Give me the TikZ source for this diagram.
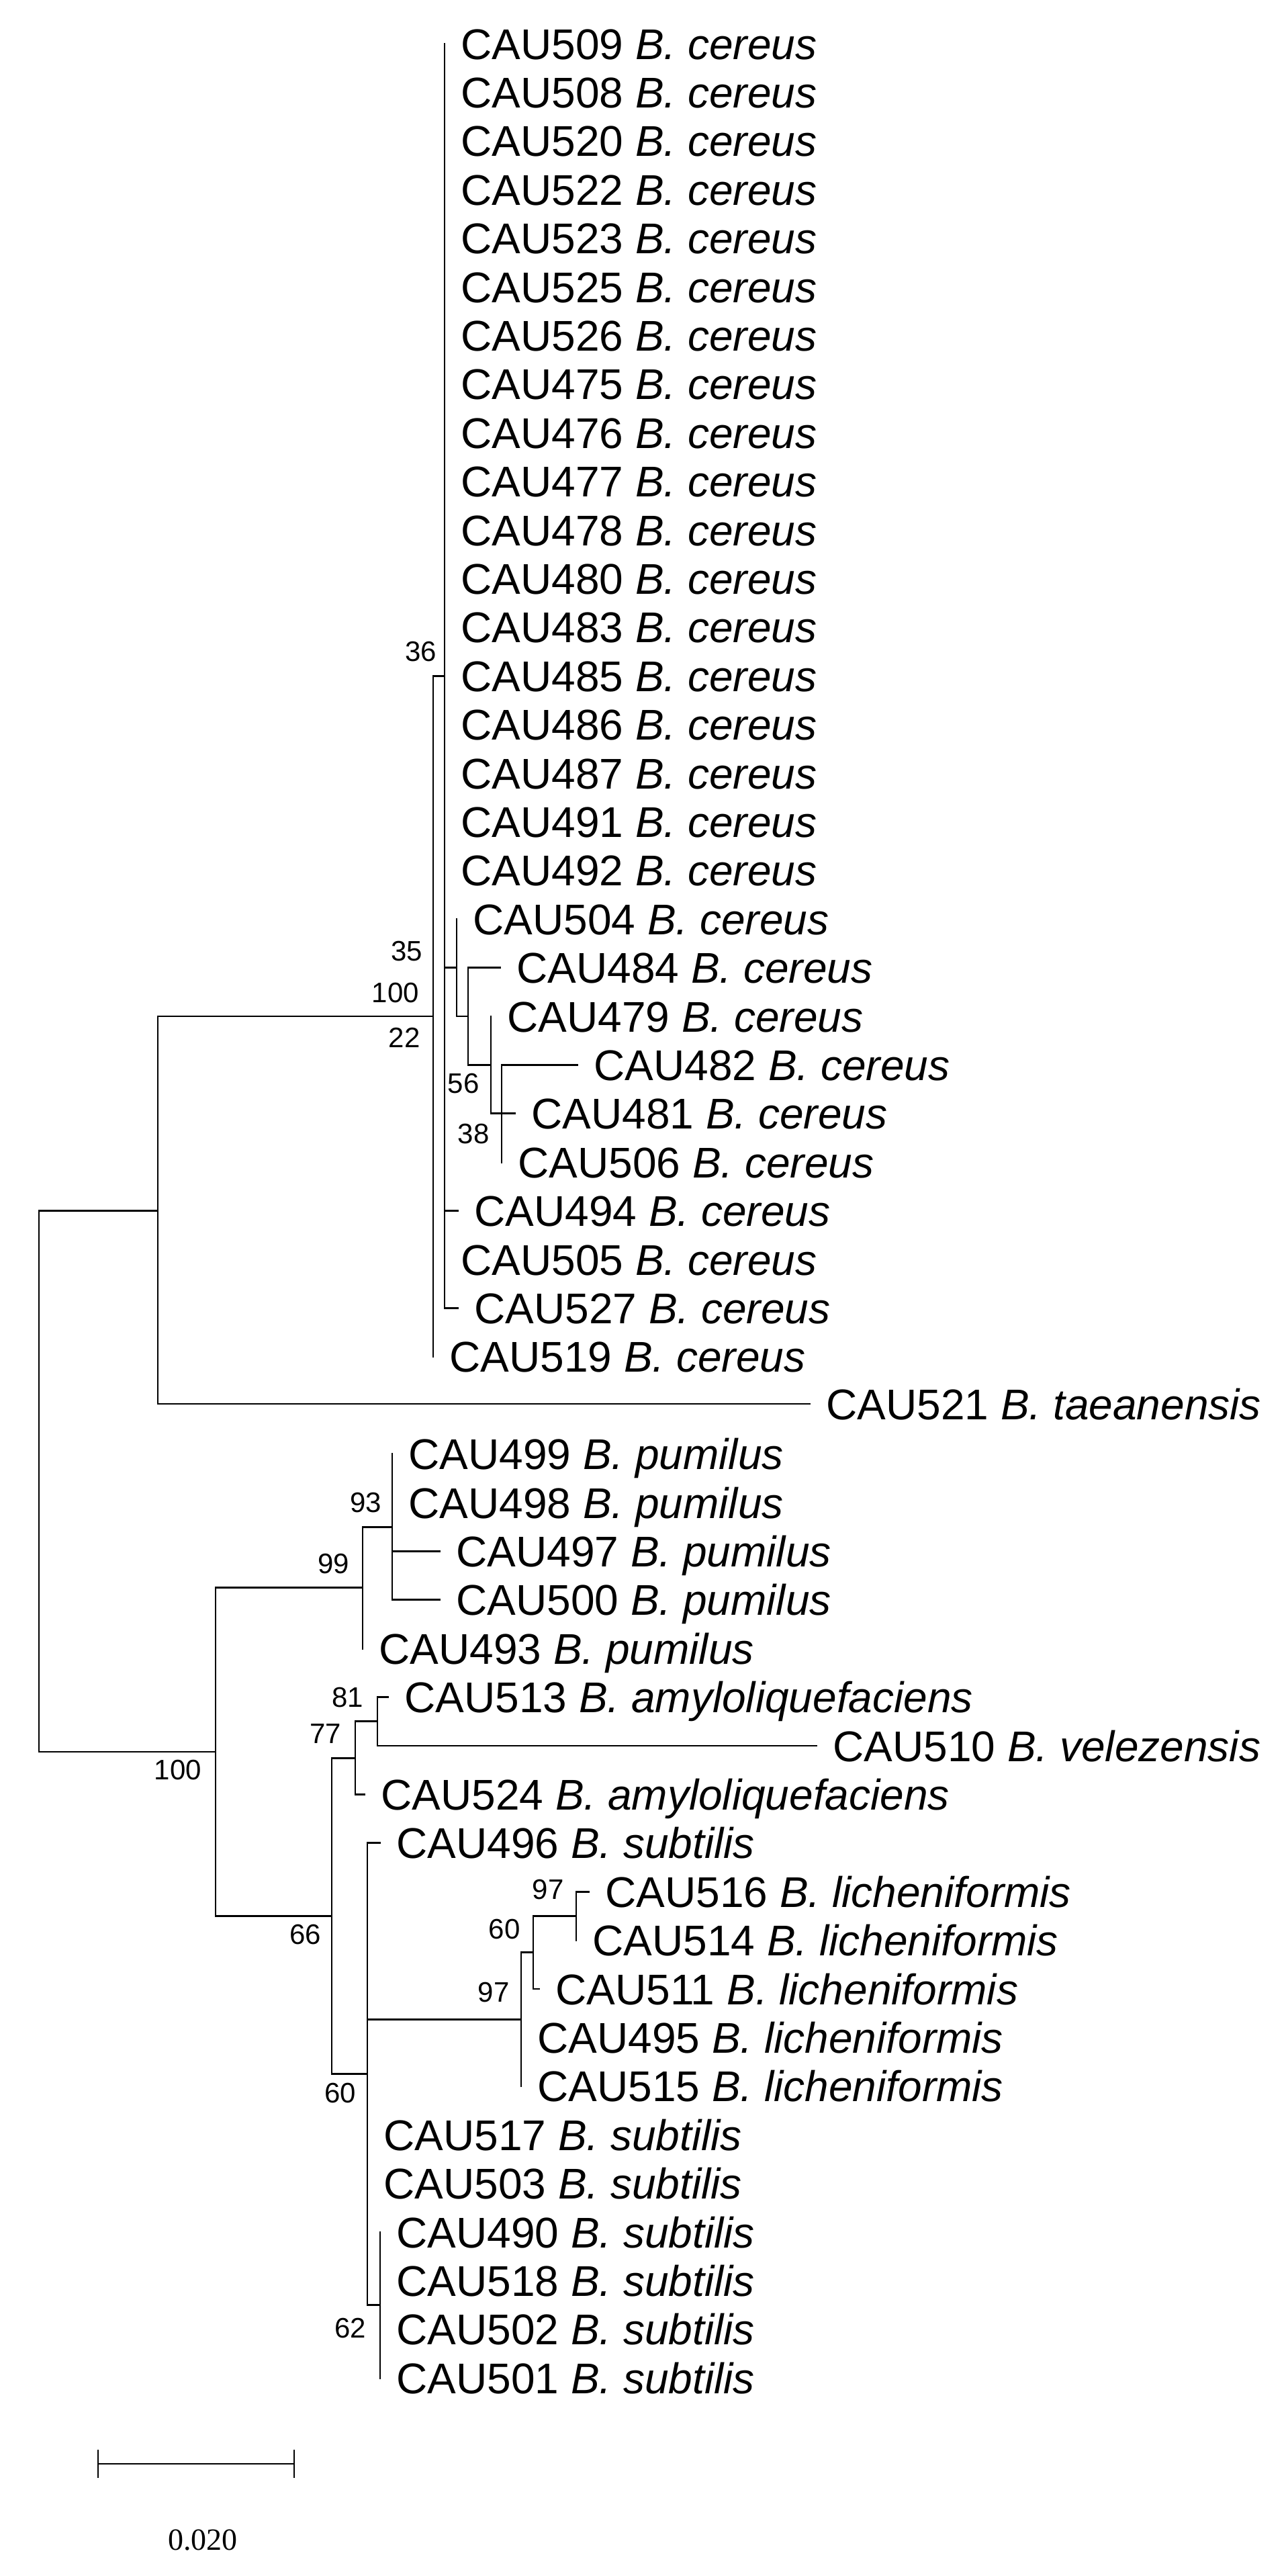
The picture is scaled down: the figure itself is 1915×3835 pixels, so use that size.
\documentclass[tikz,border=0pt]{standalone}
\usepackage{fontspec}
\setmainfont{Liberation Sans}
\newfontfamily\serifnum{Liberation Serif}
\begin{document}
\begin{tikzpicture}[x=0.5pt,y=-0.5pt,
  br/.style={line width=1.4pt,line cap=rect},
  leaf/.style={anchor=base west,inner sep=0pt,xshift=12pt,yshift=-11.5pt,font=\fontsize{32}{38}\selectfont},
  bs/.style={inner sep=0pt,font=\fontsize{21}{25}\selectfont}]
\useasboundingbox (0,0) rectangle (1915,3835);
% leaf tips
\def\lf#1#2#3#4{\coordinate (t#1) at (#2,#3); \node[leaf] (l#1) at (t#1) {CAU#1 \textit{B. #4}};}
\lf{509}{662}{65}{cereus}
\lf{508}{662}{137.4}{cereus}
\lf{520}{662}{209.8}{cereus}
\lf{522}{662}{282.2}{cereus}
\lf{523}{662}{354.6}{cereus}
\lf{525}{662}{427}{cereus}
\lf{526}{662}{499.4}{cereus}
\lf{475}{662}{571.8}{cereus}
\lf{476}{662}{644.2}{cereus}
\lf{477}{662}{716.6}{cereus}
\lf{478}{662}{789}{cereus}
\lf{480}{662}{861.4}{cereus}
\lf{483}{662}{933.8}{cereus}
\lf{485}{662}{1006.2}{cereus}
\lf{486}{662}{1078.6}{cereus}
\lf{487}{662}{1151}{cereus}
\lf{491}{662}{1223.4}{cereus}
\lf{492}{662}{1295.8}{cereus}
\lf{504}{680}{1368.2}{cereus}
\lf{484}{745}{1440.6}{cereus}
\lf{479}{731}{1513}{cereus}
\lf{482}{860}{1585.4}{cereus}
\lf{481}{767}{1657.8}{cereus}
\lf{506}{747}{1730.2}{cereus}
\lf{494}{682}{1802.6}{cereus}
\lf{505}{662}{1875}{cereus}
\lf{527}{682}{1947.4}{cereus}
\lf{519}{645}{2019.8}{cereus}
\lf{521}{1206}{2090}{taeanensis}
\lf{499}{584}{2164.6}{pumilus}
\lf{498}{584}{2237}{pumilus}
\lf{497}{655}{2309.4}{pumilus}
\lf{500}{655}{2381.8}{pumilus}
\lf{493}{540}{2454.2}{pumilus}
\lf{513}{578}{2526.6}{amyloliquefaciens}
\lf{510}{1216}{2599}{velezensis}
\lf{524}{543}{2671.4}{amyloliquefaciens}
\lf{496}{566}{2743.8}{subtilis}
\lf{516}{877}{2816.2}{licheniformis}
\lf{514}{858}{2888.6}{licheniformis}
\lf{511}{803}{2961}{licheniformis}
\lf{495}{776}{3033.4}{licheniformis}
\lf{515}{776}{3105.8}{licheniformis}
\lf{517}{547}{3178.2}{subtilis}
\lf{503}{547}{3250.6}{subtilis}
\lf{490}{566}{3323}{subtilis}
\lf{518}{566}{3395.4}{subtilis}
\lf{502}{566}{3467.8}{subtilis}
\lf{501}{566}{3540.2}{subtilis}
% internal nodes
\coordinate (n38) at (747,1657.8);
\coordinate (n56) at (731,1585.4);
\coordinate (n697) at (697,1513);
\coordinate (n35) at (680,1440.6);
\coordinate (n662) at (662,1006.2);
\coordinate (n645) at (645,1513);
\coordinate (nA) at (235,1802.6);
\coordinate (nP2) at (584,2273.2);
\coordinate (nP) at (540,2363.7);
\coordinate (n81) at (562,2562.8);
\coordinate (n77) at (529,2617.1);
\coordinate (n97a) at (858,2852.4);
\coordinate (n60a) at (794,2906.7);
\coordinate (nL) at (776,3006.25);
\coordinate (n62) at (566,3431.6);
\coordinate (n60) at (547,3087.7);
\coordinate (n66) at (494,2852.4);
\coordinate (nB) at (321,2608);
\coordinate (root) at (58,2205);
% branches
\foreach \p/\c in {n38/t482,n38/t481,n38/t506,n56/t479,n56/n38,n697/t484,n697/n56,
  n35/t504,n35/n697,
  n662/t509,n662/t527,n662/n35,n662/t494,
  n645/n662,n645/t519,nA/n645,nA/t521,root/nA,root/nB,
  nP2/t499,nP2/t497,nP2/t500,nP/nP2,nP/t493,nB/nP,nB/n66,
  n81/t513,n81/t510,n77/n81,n77/t524,n66/n77,n66/n60,
  n97a/t516,n97a/t514,n60a/n97a,n60a/t511,nL/n60a,nL/t515,
  n62/t490,n62/t501,n60/t496,n60/nL,n60/n62}
  \draw[br] (\p) |- (\c);
% bootstrap values
\node[bs] (b36) at (627,970) {36};
\node[bs] (b35) at (606,1416) {35};
\node[bs] (b100a) at (589,1478) {100};
\node[bs] (b22) at (602,1545) {22};
\node[bs] (b56) at (690,1613) {56};
\node[bs] (b38) at (705,1688) {38};
\node[bs] (b93) at (545,2237) {93};
\node[bs] (b99) at (497,2328) {99};
\node[bs] (b81) at (518,2527) {81};
\node[bs] (b77) at (485,2581) {77};
\node[bs] (b100b) at (265,2635) {100};
\node[bs] (b66) at (455,2880) {66};
\node[bs] (b97a) at (816,2813) {97};
\node[bs] (b60a) at (751,2872) {60};
\node[bs] (b97b) at (735,2966) {97};
\node[bs] (b60b) at (507,3116) {60};
\node[bs] (b62) at (522,3466) {62};
% scale bar
\coordinate (s1) at (146,3668);
\coordinate (s2) at (438,3668);
\draw[br] (s1) -- (s2);
\draw[br] ([yshift=10pt]s1) -- ([yshift=-10pt]s1);
\draw[br] ([yshift=10pt]s2) -- ([yshift=-10pt]s2);
\node[inner sep=0pt,font=\serifnum\fontsize{23}{27}\selectfont] (sl) at (302,3781) {0.020};
\end{tikzpicture}
\end{document}
